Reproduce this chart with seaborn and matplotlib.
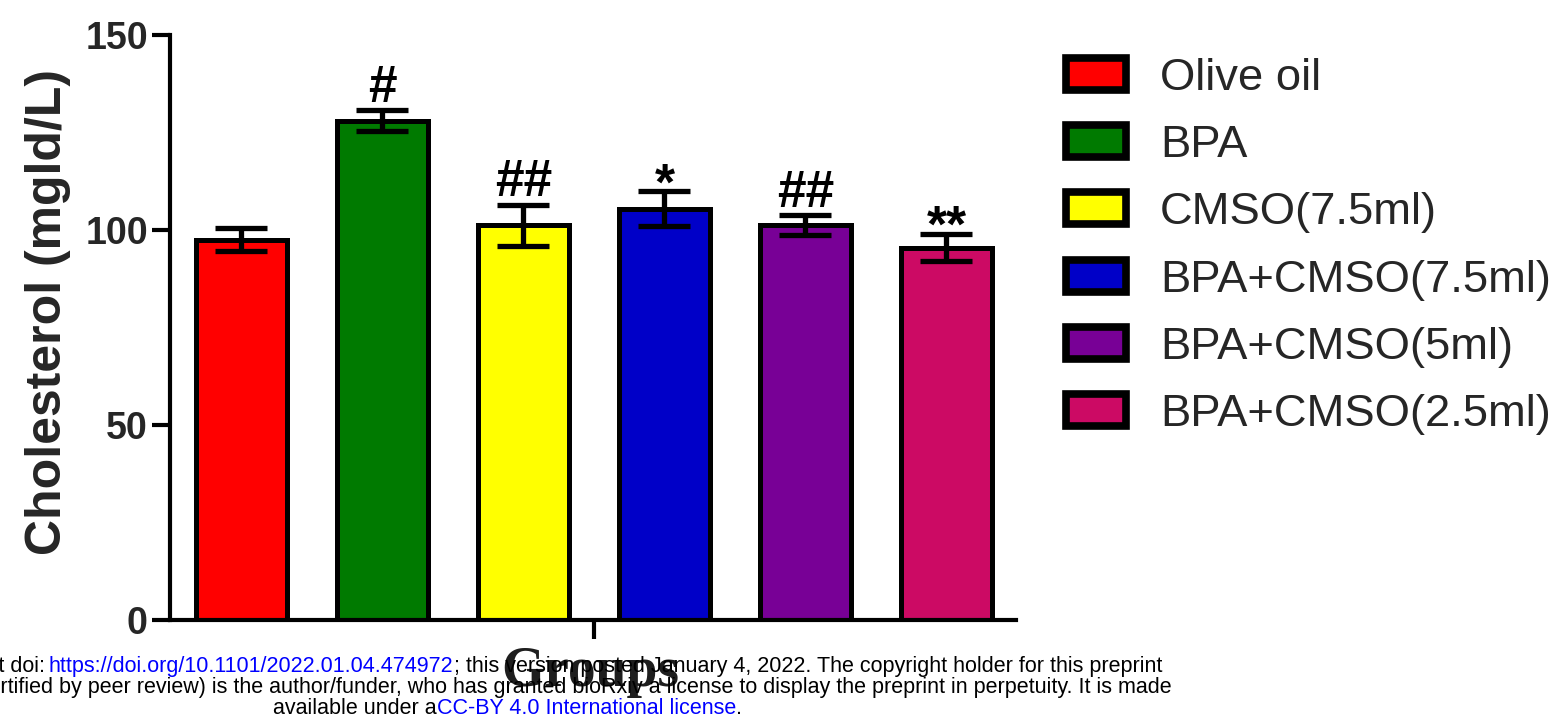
import numpy as np
import pandas as pd
import matplotlib
matplotlib.use("Agg")
import matplotlib.pyplot as plt
from matplotlib.patches import Patch
from matplotlib.textpath import TextPath
from matplotlib.font_manager import FontProperties
import seaborn as sns

# Serum cholesterol per treatment group (mean and SEM)
groups = ["Olive oil", "BPA", "CMSO(7.5ml)", "BPA+CMSO(7.5ml)",
          "BPA+CMSO(5ml)", "BPA+CMSO(2.5ml)"]
cholesterol = [97.5, 128.0, 101.2, 105.5, 101.3, 95.5]
sem = [3.0, 2.7, 5.3, 4.4, 2.5, 3.5]
marks = ["", "#", "##", "*", "##", "**"]
bar_colors = ["#FF0000", "#007A00", "#FFFF00", "#0000C8", "#780096", "#CC0A64"]
y_ticks = [0, 50, 100, 150]

sns.set_theme(style="ticks")
plt.rcParams["font.family"] = ["Liberation Sans", "DejaVu Sans"]

W, H = 1559, 716
fig = plt.figure(figsize=(W / 100, H / 100), dpi=100)
ax = fig.add_axes([170 / W, 96 / H, 846 / W, 585 / H])

df = pd.DataFrame({"group": groups, "value": cholesterol})
sns.barplot(data=df, x="group", y="value", hue="group", order=groups,
            hue_order=groups, palette=bar_colors, saturation=1,
            width=0.645, edgecolor="black", linewidth=3.6,
            errorbar=None, legend=False, ax=ax)

x = np.arange(len(groups))
eb = ax.errorbar(x, cholesterol, yerr=sem, fmt="none", ecolor="black",
                 elinewidth=3.8, capsize=19, capthick=3.8, zorder=5)

# significance marks sit a fixed distance above each error cap
mark_font = FontProperties(family="Liberation Sans", weight="bold", size=37)
for xi, m, s, lab in zip(x, cholesterol, sem, marks):
    if not lab:
        continue
    ink = TextPath((0, 0), lab, prop=mark_font).get_extents()
    ax.annotate(lab, xy=(xi, m + s), xytext=(0, 6 - ink.y0),
                textcoords="offset points", ha="center", va="baseline",
                fontproperties=mark_font, color="black", zorder=6)

ax.set_xlim(-0.507, 5.493)
ax.set_ylim(0, 150)
ax.set_yticks(y_ticks)
ax.set_yticklabels([str(t) for t in y_ticks], fontsize=27, fontweight="bold")
ax.set_xticks([2.5])
ax.set_xticklabels([""])
ax.tick_params(axis="y", length=13, width=3, pad=3, color="black")
ax.tick_params(axis="x", length=14, width=3, color="black")
for side in ("top", "right"):
    ax.spines[side].set_visible(False)
for side in ("left", "bottom"):
    ax.spines[side].set_linewidth(3)
    ax.spines[side].set_color("black")

ax.set_ylabel("Cholesterol (mgld/L)", fontsize=36, fontweight="bold",
              va="center")
ax.yaxis.set_label_coords((48 - 170) / 846, (620 - 312) / 585)
ax.set_xlabel("Groups", fontsize=40, fontweight="bold",
              family=["Liberation Serif", "DejaVu Serif"], color="#1e1e1e",
              va="center")
ax.xaxis.set_label_coords((590 - 170) / 846, (620 - 672) / 585)

handles = [Patch(facecolor=c, edgecolor="black", linewidth=5.5,
                 joinstyle="round") for c in bar_colors]
fig.legend(handles, groups, loc="upper left",
           bbox_to_anchor=(1066 / W, 1 - 57.5 / H), frameon=False,
           fontsize=32.7, handlelength=1.32, handleheight=0.71,
           handletextpad=0.75, labelspacing=0.58, borderpad=0,
           borderaxespad=0)

# preprint footer
renderer = fig.canvas.get_renderer()
foot = dict(fontsize=15.5, va="baseline", family=["Liberation Sans", "DejaVu Sans"])
link = "#0000ff"


def fx(px):
    return px / W


def fy(px):
    return 1 - px / H


y1, y2, y3 = 672, 693, 714
fig.text(fx(45), fy(y1), "bioRxiv preprint doi:", ha="right", color="black", **foot)
t_url = fig.text(fx(49), fy(y1), "https://doi.org/10.1101/2022.01.04.474972",
                 ha="left", color=link, **foot)
url_w = t_url.get_window_extent(renderer).width
fig.text(fx(49 + url_w), fy(y1),
         "; this version posted January 4, 2022. The copyright holder for this preprint",
         ha="left", color="black", **foot)
fig.text(fx(1172), fy(y2),
         "(which was not certified by peer review) is the author/funder, who has granted "
         "bioRxiv a license to display the preprint in perpetuity. It is made",
         ha="right", color="black", **foot)
t_a = fig.text(fx(273), fy(y3), "available under a", ha="left", color="black", **foot)
a_w = t_a.get_window_extent(renderer).width
t_cc = fig.text(fx(273 + a_w), fy(y3), "CC-BY 4.0 International license",
                ha="left", color=link, **foot)
cc_w = t_cc.get_window_extent(renderer).width
fig.text(fx(273 + a_w + cc_w), fy(y3), ".", ha="left", color="black", **foot)

fig.savefig("out.png", dpi=100)
